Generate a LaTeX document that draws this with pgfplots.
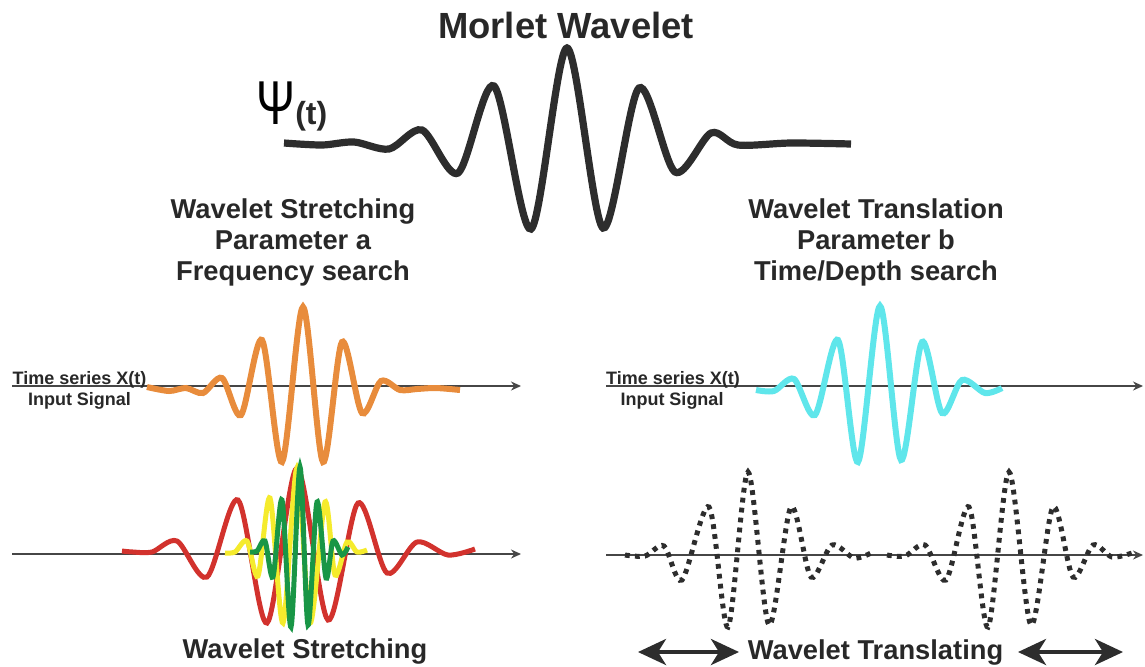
\documentclass[border=0pt]{standalone}
\usepackage{pgfplots}
\pgfplotsset{compat=1.18}
\usepackage{fontspec}
\setmainfont{Liberation Sans}
\usetikzlibrary{arrows.meta}
\definecolor{wblack}{RGB}{45,45,45}
\definecolor{worange}{RGB}{232,140,60}
\definecolor{wcyan}{RGB}{95,230,235}
\definecolor{wred}{RGB}{210,50,45}
\definecolor{wyellow}{RGB}{245,235,45}
\definecolor{wgreen}{RGB}{25,150,70}
\definecolor{wtext}{RGB}{40,40,40}
\definecolor{waxis}{RGB}{70,70,70}
\begin{document}
\begin{tikzpicture}
\begin{axis}[scale only axis, width=572.5pt, height=333pt,
  xmin=0, xmax=1145, ymin=0, ymax=666, y dir=reverse,
  axis lines=none, clip=false]
% axes (time series)
\addplot[waxis, line width=0.75pt, -{Stealth[length=5pt,width=4.5pt]}] coordinates {(12,386) (521,386)};
\addplot[waxis, line width=0.75pt, -{Stealth[length=5pt,width=4.5pt]}] coordinates {(606,386) (1143,386)};
\addplot[waxis, line width=0.75pt, -{Stealth[length=5pt,width=4.5pt]}] coordinates {(12,554) (521,554)};
\addplot[waxis, line width=0.75pt, -{Stealth[length=5pt,width=4.5pt]}] coordinates {(606,555) (1143,555)};
% mother wavelet
\addplot[wblack, line width=3.6pt, smooth] coordinates {
(284,143) (322,145) (354,142) (389,149) (422,130) (458,173) (494,86) (531,229) (567,48) (603,228) (639,88) (675,172) (711,133) (738,145) (791,143) (851,144)};
% orange
\addplot[worange, line width=3pt, smooth] coordinates {
(147,387) (169,391) (186,388) (203,393) (222,378) (241,415) (262,340) (282,462) (303,307) (323,462) (342,342) (362,413) (381,381) (400,390) (417,389) (436,388) (460,390)};
% cyan
\addplot[wcyan, line width=3pt, smooth] coordinates {
(756,390) (774,391) (794,379) (815,415) (838,340) (858,462) (880,306) (901,460) (922,342) (942,413) (962,380) (985,393) (1002,388)};
% red
\addplot[wred, line width=2.5pt, smooth] coordinates {
(122,551) (133,552) (152,552) (177,541) (207,577) (238,500) (267,623) (297,468) (328,620) (358,503) (387,573) (417,542) (448,555) (475,549)};
% yellow
\addplot[wyellow, line width=2.5pt, smooth] coordinates {
(225,553) (235,552) (247,541) (258,576) (270,498) (283,623) (297,468) (310,623) (325,502) (335,575) (347,542) (357,552) (367,550)};
% green
\addplot[wgreen, line width=2.5pt, smooth] coordinates {
(250,552) (257,551) (265,541) (273,577) (282,500) (291,627) (300,467) (308,625) (317,502) (326,578) (333,541) (342,555) (348,547)};
% dotted translated wavelets
\addplot[wblack, line width=2.5pt, smooth, dash pattern=on 2.4pt off 2.6pt] coordinates {
(625,555) (645,556) (664,546) (682,580) (709,507) (728,627) (748,472) (769,625) (791,507) (811,577) (832,545) (854,558) (871,553)};
\addplot[wblack, line width=2.5pt, smooth, dash pattern=on 2.4pt off 2.6pt] coordinates {
(887,555) (905,556) (925,545) (946,580) (969,507) (988,627) (1009,472) (1031,625) (1053,507) (1073,577) (1093,545) (1112,557) (1132,553)};
% double arrows
\addplot[wblack, line width=2pt, {Stealth[length=14pt,width=13pt,inset=4pt]}-{Stealth[length=14pt,width=13pt,inset=4pt]}] coordinates {(638,652) (739,652)};
\addplot[wblack, line width=2pt, {Stealth[length=14pt,width=13pt,inset=4pt]}-{Stealth[length=14pt,width=13pt,inset=4pt]}] coordinates {(1018,652) (1123,652)};
% texts
\node[anchor=base, inner sep=0, text=wtext, font=\bfseries\fontsize{18.2}{20}\selectfont] at (axis cs:566,38) {Morlet Wavelet};
\node[anchor=base west, inner sep=0, text=black] at (axis cs:256,124) {{\fontsize{31}{33}\selectfont\scalebox{0.75}[1]{Ψ}}{\color{wtext}\bfseries\fontsize{16}{18}\selectfont(t)}};
\node[anchor=base, inner sep=0, text=wtext, font=\bfseries\fontsize{13.65}{15}\selectfont] at (axis cs:293,218) {Wavelet Stretching};
\node[anchor=base, inner sep=0, text=wtext, font=\bfseries\fontsize{13.65}{15}\selectfont] at (axis cs:293,249) {Parameter a};
\node[anchor=base, inner sep=0, text=wtext, font=\bfseries\fontsize{13.65}{15}\selectfont] at (axis cs:293,280) {Frequency search};
\node[anchor=base, inner sep=0, text=wtext, font=\bfseries\fontsize{13.65}{15}\selectfont] at (axis cs:876,218) {Wavelet Translation};
\node[anchor=base, inner sep=0, text=wtext, font=\bfseries\fontsize{13.65}{15}\selectfont] at (axis cs:876,249) {Parameter b};
\node[anchor=base, inner sep=0, text=wtext, font=\bfseries\fontsize{13.65}{15}\selectfont] at (axis cs:876,280) {Time/Depth search};
\node[anchor=base, inner sep=0, text=wtext, font=\bfseries\fontsize{9}{10}\selectfont] at (axis cs:79.5,384) {Time series X(t)};
\node[anchor=base, inner sep=0, text=wtext, font=\bfseries\fontsize{9}{10}\selectfont] at (axis cs:79.5,405) {Input Signal};
\node[anchor=base, inner sep=0, text=wtext, font=\bfseries\fontsize{9}{10}\selectfont] at (axis cs:673,384) {Time series X(t)};
\node[anchor=base, inner sep=0, text=wtext, font=\bfseries\fontsize{9}{10}\selectfont] at (axis cs:672,405) {Input Signal};
\node[anchor=base, inner sep=0, text=wtext, font=\bfseries\fontsize{13.65}{15}\selectfont] at (axis cs:305,658) {Wavelet Stretching};
\node[anchor=base, inner sep=0, text=wtext, font=\bfseries\fontsize{13.65}{15}\selectfont] at (axis cs:875.5,659) {Wavelet Translating};
\end{axis}
\pgfresetboundingbox
\path (0,0) rectangle (572.5pt,333pt);
\end{tikzpicture}
\end{document}
